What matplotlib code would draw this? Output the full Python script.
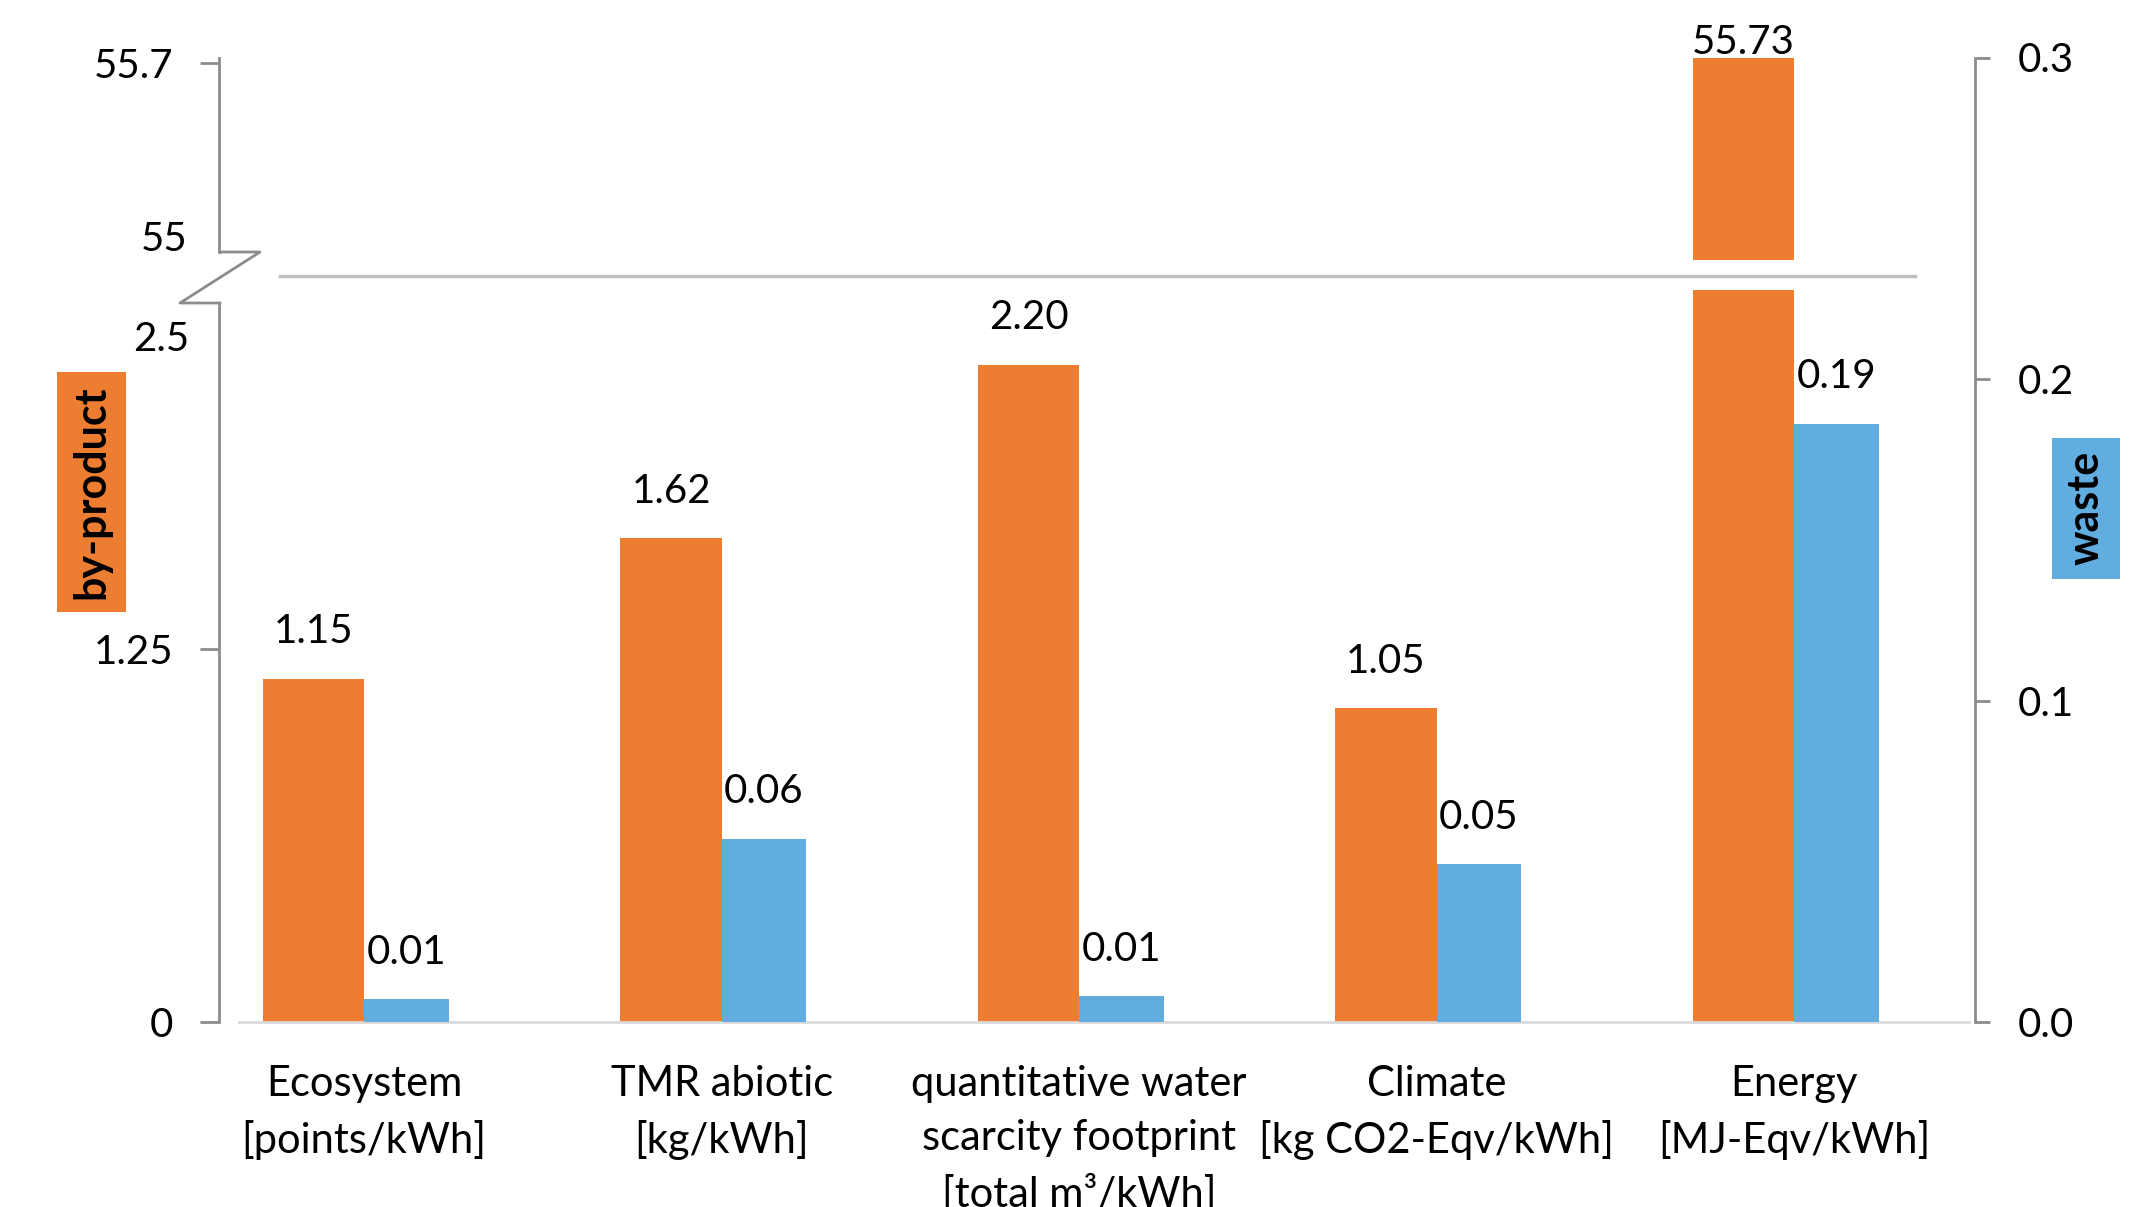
import numpy as np
import matplotlib
matplotlib.use("Agg")
import matplotlib.pyplot as plt
from matplotlib.lines import Line2D
from matplotlib.patches import Rectangle

# data
categories = ["Ecosystem\n[points/kWh]", "TMR abiotic\n[kg/kWh]",
              "quantitative water\nscarcity footprint\n[total m³/kWh]",
              "Climate\n[kg CO2-Eqv/kWh]", "Energy\n[MJ-Eqv/kWh]"]
by_product = [1.15, 1.62, 2.20, 1.05, 55.73]
waste = [0.007, 0.057, 0.008, 0.049, 0.186]
left_ticks = [0, 1.25]
top_ticks = [55.7]
right_ticks = [0.0, 0.1, 0.2, 0.3]

orange = '#ED7D31'
blue = '#62ADDF'
axis_gray = '#8C8C8C'

plt.rcParams['font.family'] = ['Lato', 'DejaVu Sans']
fs = 29

W, H = 2145, 1207
fig = plt.figure(figsize=(W / 100, H / 100), dpi=100)


def box(x0, y0, x1, y1):
    # pixel box measured from top-left -> figure fraction rect
    return [x0 / W, 1 - y1 / H, (x1 - x0) / W, (y1 - y0) / H]


x = np.arange(len(categories))
xlim = (-0.406, 4.506)
w_or = 0.283
w_bl = 0.237

ax_low = fig.add_axes(box(219, 290, 1975, 1022))
ax_top = fig.add_axes(box(219, 57.5, 1975, 260))
ax_w = fig.add_axes(box(219, 57.5, 1975, 1022))
for a in (ax_low, ax_top, ax_w):
    a.set_xlim(*xlim)
    a.patch.set_visible(False)
    for s in a.spines.values():
        s.set_visible(False)

# lower part of by-product axis
low_max = 732 / 298.6
ax_low.set_ylim(0, low_max)
ax_low.bar(x, by_product, width=-w_or, align='edge', color=orange)
for xi, v in zip(x, by_product):
    if v <= low_max:
        ax_low.annotate(f'{v:.2f}', (xi - w_or / 2, v), xytext=(0, 34),
                        textcoords='offset points', ha='center', va='center', fontsize=fs)
ax_low.spines['left'].set_visible(True)
ax_low.spines['left'].set_color(axis_gray)
ax_low.spines['left'].set_linewidth(2)
ax_low.spines['left'].set_bounds(0, 2.408)
ax_low.spines['bottom'].set_visible(True)
ax_low.spines['bottom'].set_color('#D9D9D9')
ax_low.spines['bottom'].set_linewidth(2)
ax_low.spines['bottom'].set_bounds(-0.35, 4.49)
ax_low.set_yticks(left_ticks)
ax_low.set_yticklabels(['0', '1.25'])
ax_low.tick_params(axis='y', direction='out', length=14, width=2, color=axis_gray,
                   pad=19, labelsize=fs)
ax_low.set_xticks(x)
ax_low.set_xticklabels(categories, fontsize=30, linespacing=1.52, va='top')
ax_low.tick_params(axis='x', length=0, pad=31)
ax_low.annotate('2.5', (0, 2.284), xycoords=('axes fraction', 'data'), xytext=(-21.6, 0),
                textcoords='offset points', ha='right', va='center', fontsize=fs)

# upper (broken) part of by-product axis
ax_top.set_ylim(54.92, 55.72)
ax_top.bar(x, by_product, width=-w_or, align='edge', color=orange)
for xi, v in zip(x, by_product):
    if v > 54.92:
        ax_top.annotate(f'{v:.2f}', (xi - w_or / 2, min(v, 55.72)), xytext=(0, 11),
                        textcoords='offset points', ha='center', va='center', fontsize=fs,
                        annotation_clip=False)
ax_top.spines['left'].set_visible(True)
ax_top.spines['left'].set_color(axis_gray)
ax_top.spines['left'].set_linewidth(2)
ax_top.spines['left'].set_bounds(54.952, 55.72)
ax_top.set_yticks(top_ticks)
ax_top.set_yticklabels(['55.7'])
ax_top.tick_params(axis='y', direction='out', length=14, width=2, color=axis_gray,
                   pad=19, labelsize=fs)
ax_top.set_xticks([])
ax_top.annotate('55', (0, 55.0), xycoords=('axes fraction', 'data'), xytext=(-23, 0),
                textcoords='offset points', ha='right', va='center', fontsize=fs)

# waste on secondary axis
ax_w.set_ylim(0, 0.3)
ax_w.bar(x, waste, width=w_bl, align='edge', color=blue)
for xi, v in zip(x, waste):
    ax_w.annotate(f'{v:.2f}', (xi + w_bl / 2, v), xytext=(0, 34),
                  textcoords='offset points', ha='center', va='center', fontsize=fs)
ax_w.yaxis.tick_right()
ax_w.spines['right'].set_visible(True)
ax_w.spines['right'].set_color(axis_gray)
ax_w.spines['right'].set_linewidth(2)
ax_w.set_yticks(right_ticks)
ax_w.set_yticklabels([f'{t:.1f}' for t in right_ticks])
ax_w.tick_params(axis='y', direction='out', length=11, width=2, color=axis_gray,
                 pad=20, labelsize=fs)
ax_w.set_xticks([])

# axis break marks
zz_x = [220, 260, 180, 220]
zz_y = [252, 252, 303, 303]
fig.add_artist(Line2D([p / W for p in zz_x], [1 - p / H for p in zz_y],
                      transform=fig.transFigure, color=axis_gray, lw=2))
fig.add_artist(Line2D([280 / W, 1915 / W], [1 - 276 / H, 1 - 276 / H],
                      transform=fig.transFigure, color='#BFBFBF', lw=2.5))

# series name boxes
fig.add_artist(Rectangle((57 / W, 1 - 612 / H), 69 / W, 240 / H,
                         transform=fig.transFigure, color=orange, lw=0))
fig.text(91.5 / W, 1 - 492 / H, 'by-product', rotation=90, ha='center', va='center',
         fontsize=31, fontweight='bold')
fig.add_artist(Rectangle((2052 / W, 1 - 579 / H), 68 / W, 141 / H,
                         transform=fig.transFigure, color=blue, lw=0))
fig.text(2086 / W, 1 - 508 / H, 'waste', rotation=90, ha='center', va='center',
         fontsize=31, fontweight='bold')

fig.savefig('out.png', dpi=100)
